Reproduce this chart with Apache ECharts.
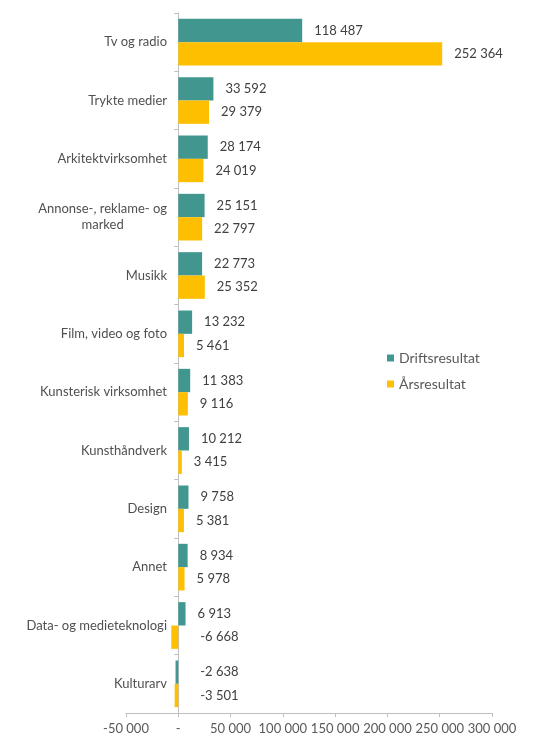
<!DOCTYPE html>
<html>
<head>
<meta charset="utf-8">
<script src="https://cdn.jsdelivr.net/npm/echarts@6/dist/echarts.min.js"></script>
<style>
  html, body { margin: 0; padding: 0; background: #fff; }
  #chart { width: 541px; height: 750px; }
</style>
</head>
<body>
<div id="chart"></div>
<script>
  const categories = [
    'Tv og radio', 'Trykte medier', 'Arkitektvirksomhet', 'Annonse-, reklame- og\nmarked',
    'Musikk', 'Film, video og foto', 'Kunsterisk virksomhet', 'Kunsthåndverk',
    'Design', 'Annet', 'Data- og medieteknologi', 'Kulturarv'
  ];
  const driftsresultat = [118487, 33592, 28174, 25151, 22773, 13232, 11383, 10212, 9758, 8934, 6913, -2638];
  const arsresultat = [252364, 29379, 24019, 22797, 25352, 5461, 9116, 3415, 5381, 5978, -6668, -3501];
  const xTicks = [-50000, 0, 50000, 100000, 150000, 200000, 250000, 300000];

  const fontFamily = 'Lato, "Open Sans", sans-serif';

  const fmt = (v) => {
    if (v === 0) return '-';
    const s = Math.abs(v).toString().replace(/\B(?=(\d{3})+(?!\d))/g, ' ');
    return (v < 0 ? '-' : '') + s;
  };

  // negative bars: put the label right of the zero line
  const toItems = (arr) => arr.map((v) => {
    if (v >= 0) return v;
    return { value: v, label: { position: 'right', distance: 22 } };
  });

  const chart = echarts.init(document.getElementById('chart'));

  const option = {
    animation: false,
    textStyle: { fontFamily },
    grid: { left: 126, right: 49, top: 13, bottom: 37, outerBoundsMode: 'none' },
    legend: {
      orient: 'vertical',
      left: 382,
      top: 346,
      itemWidth: 7,
      itemHeight: 7,
      itemGap: 12,
      icon: 'rect',
      textStyle: { color: '#595959', fontSize: 14, fontFamily },
      data: ['Driftsresultat', 'Årsresultat'],
    },
    xAxis: {
      type: 'value',
      min: xTicks[0],
      max: xTicks[xTicks.length - 1],
      interval: 50000,
      axisLine: { show: true, onZero: false, lineStyle: { color: '#bfbfbf' } },
      axisTick: { show: true, length: 4, lineStyle: { color: '#bfbfbf' } },
      axisLabel: {
        color: '#595959',
        fontSize: 13,
        margin: 9,
        fontFamily,
        formatter: (v) => fmt(v),
      },
      splitLine: { show: false },
    },
    yAxis: {
      type: 'category',
      inverse: true,
      data: categories,
      axisLine: { show: true, onZero: true, lineStyle: { color: '#bfbfbf' } },
      axisTick: { show: true, length: 4, lineStyle: { color: '#bfbfbf' } },
      axisLabel: {
        color: '#505050',
        fontSize: 13,
        margin: -41,
        fontFamily,
        formatter: (v) => '{c|' + v.split('\n').join('}\n{c|') + '}',
        rich: { c: { align: 'center', fontSize: 13, color: '#505050', fontFamily, lineHeight: 16 } },
      },
    },
    series: [
      {
        name: 'Driftsresultat',
        type: 'bar',
        data: toItems(driftsresultat),
        barGap: '0%',
        barCategoryGap: '20%',
        itemStyle: { color: '#41968f' },
        label: {
          show: true,
          position: 'right',
          distance: 12,
          color: '#404040',
          fontSize: 13,
          fontFamily,
          formatter: (p) => fmt(p.value),
        },
      },
      {
        name: 'Årsresultat',
        type: 'bar',
        data: toItems(arsresultat),
        itemStyle: { color: '#fdbf00' },
        label: {
          show: true,
          position: 'right',
          distance: 12,
          color: '#404040',
          fontSize: 13,
          fontFamily,
          formatter: (p) => fmt(p.value),
        },
      },
    ],
  };

  chart.setOption(option);
</script>
</body>
</html>
